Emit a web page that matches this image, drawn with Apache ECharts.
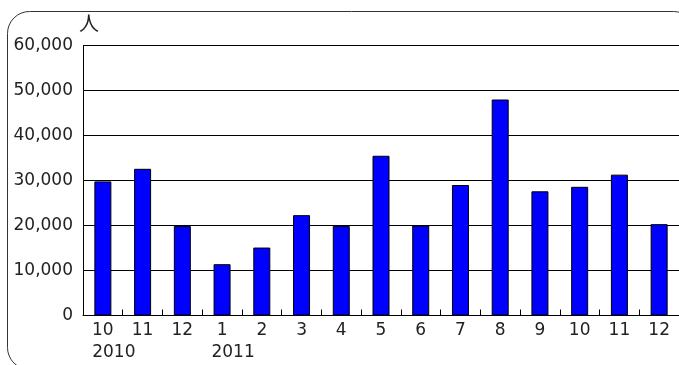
<!DOCTYPE html>
<html>
<head>
<meta charset="utf-8">
<script src="https://cdn.jsdelivr.net/npm/echarts@6/dist/echarts.min.js"></script>
<style>
  html, body { margin: 0; padding: 0; background: #fff; }
  #chart { width: 679px; height: 365px; }
</style>
</head>
<body>
<div id="chart"></div>
<script>
// 月別人数 2010/10 - 2011/12
const months = ['10', '11', '12', '1', '2', '3', '4', '5', '6', '7', '8', '9', '10', '11', '12']
const years = ['2010', '', '', '2011', '', '', '', '', '', '', '', '', '', '', '']
const visitors = [29800, 32600, 19900, 11400, 15100, 22300, 19900, 35500, 20000, 29000, 48000, 27600, 28600, 31300, 20300]
const yTicks = [0, 10000, 20000, 30000, 40000, 50000, 60000]

const font = 'DejaVu Sans'
let myChart = echarts.init(document.getElementById('chart'))

let option = {
  animation: false,
  backgroundColor: '#fff',
  graphic: [{
    type: 'rect',
    left: 5,
    top: 9,
    shape: { width: 688, height: 358, r: 22 },
    style: { fill: 'none', stroke: '#333', lineWidth: 1 },
    z: -1
  }],
  grid: {
    left: 83,
    top: 45.5,
    bottom: 49.5,
    right: -3
  },
  xAxis: [{
    type: 'category',
    data: months,
    axisLine: { lineStyle: { color: '#000', width: 1 } },
    axisTick: { show: true, inside: true, length: 6, lineStyle: { color: '#000' } },
    axisLabel: { color: '#222', fontFamily: font, fontSize: 17, margin: 7, interval: 0 }
  }, {
    type: 'category',
    data: years,
    position: 'bottom',
    offset: 22,
    axisLine: { show: false },
    axisTick: { show: false },
    axisLabel: { color: '#222', fontFamily: font, fontSize: 17, margin: 7, interval: 0, padding: [0, 0, 0, 22] }
  }],
  yAxis: {
    type: 'value',
    min: yTicks[0],
    max: yTicks[yTicks.length - 1],
    interval: yTicks[1] - yTicks[0],
    name: '人',
    nameLocation: 'end',
    nameGap: 12,
    nameTextStyle: { color: '#222', fontFamily: 'Noto Sans CJK JP', fontSize: 20, padding: [0, 0, 0, 12] },
    axisLine: { show: true, lineStyle: { color: '#000', width: 1 } },
    axisTick: { show: false },
    splitLine: { lineStyle: { color: '#000', width: 1 } },
    axisLabel: {
      color: '#222',
      fontFamily: font,
      fontSize: 17,
      margin: 10,
      formatter: function (v) { return v.toLocaleString('en-US') }
    }
  },
  series: [{
    type: 'bar',
    xAxisIndex: 0,
    data: visitors,
    barWidth: 17,
    itemStyle: { color: '#0000ff', borderColor: '#000', borderWidth: 1 }
  }]
}
myChart.setOption(option)
</script>
</body>
</html>
